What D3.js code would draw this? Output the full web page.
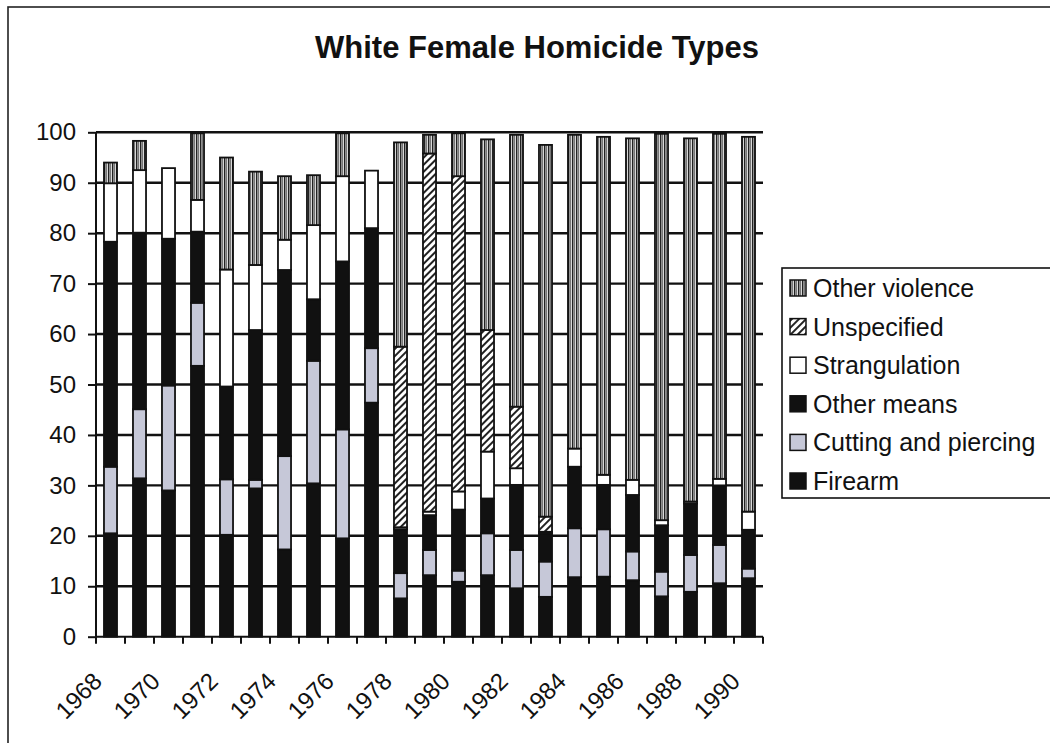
<!DOCTYPE html>
<html><head><meta charset="utf-8">
<script src="https://cdn.jsdelivr.net/npm/d3@7/dist/d3.min.js"></script>
<style>
body{margin:0;background:#fff}
svg{display:block}
text{font-family:"Liberation Sans",Arial,Helvetica,sans-serif;fill:#111}
</style>
</head><body>
<svg id="c" width="1050" height="743"></svg>
<script>
const years = [1968,1969,1970,1971,1972,1973,1974,1975,1976,1977,1978,1979,1980,1981,1982,1983,1984,1985,1986,1987,1988,1989,1990];
const firearm       = [20.5,31.4,29.0,53.7,20.2,29.4,17.3,30.4,19.5,46.4, 7.6,12.2,10.9,12.2, 9.6, 7.9,11.8,11.9,11.2, 8.0, 8.9,10.6,11.6];
const cutting       = [13.2,13.7,20.8,12.5,11.0, 1.7,18.5,24.3,21.6,10.8, 5.0, 5.0, 2.2, 8.3, 7.6, 7.0, 9.7, 9.4, 5.7, 4.9, 7.3, 7.6, 1.9];
const otherMeans    = [44.6,35.0,29.1,14.1,18.4,29.7,36.9,12.2,33.3,23.8, 8.7, 6.9,12.1, 6.9,12.9, 5.6,12.2, 8.8,11.2, 9.2,10.2,11.8, 7.7];
const strangulation = [11.6,12.4,14.0, 6.3,23.2,12.9, 6.0,14.7,16.9,11.4, 0.4, 0.7, 3.6, 9.3, 3.3, 0.3, 3.6, 2.0, 3.0, 1.0, 0.4, 1.3, 3.6];
const unspecified   = [ 0, 0, 0, 0, 0, 0, 0, 0, 0, 0,35.8,71.0,62.5,24.1,12.2, 3.0, 0, 0, 0, 0, 0, 0, 0];
const otherViolence = [ 4.1, 5.8, 0,13.2,22.2,18.5,12.6, 9.9, 8.5, 0,40.5, 3.7, 8.5,37.8,53.9,73.7,62.2,67.0,67.7,76.6,72.0,68.4,74.3];
const seriesNames = ["Firearm","Cutting and piercing","Other means","Strangulation","Unspecified","Other violence"];
const yTicks = [0,10,20,30,40,50,60,70,80,90,100];
const xTickLabels = [1968,1970,1972,1974,1976,1978,1980,1982,1984,1986,1988,1990];
const title = "White Female Homicide Types";

const svg = d3.select("#c");
const defs = svg.append("defs");

// patterns
const pOV = defs.append("pattern").attr("id","pOV").attr("patternUnits","userSpaceOnUse")
  .attr("width",4).attr("height",4);
pOV.append("rect").attr("width",4).attr("height",4).attr("fill","#d8d8d8");
pOV.append("rect").attr("x",0).attr("width",1.4).attr("height",4).attr("fill","#222");
pOV.append("rect").attr("x",2).attr("width",1).attr("height",4).attr("fill","#777");

const pU = defs.append("pattern").attr("id","pU").attr("patternUnits","userSpaceOnUse")
  .attr("width",5).attr("height",5).attr("patternTransform","rotate(45)");
pU.append("rect").attr("width",5).attr("height",5).attr("fill","#fff");
pU.append("rect").attr("x",0).attr("width",2).attr("height",5).attr("fill","#222");

const fills = ["#111","#c6c8d8","#111","#fff","url(#pU)","url(#pOV)"];

// outer border
svg.append("rect").attr("x",8).attr("y",7).attr("width",1100).attr("height",800)
  .attr("fill","none").attr("stroke","#222").attr("stroke-width",1.6);

// title
svg.append("text").attr("x",537).attr("y",58).attr("text-anchor","middle")
  .style("font-size","31px").style("font-weight","bold").text(title);

const x = d3.scaleBand().domain(years).range([96,763]).paddingInner(0.55).paddingOuter(0.275);
const y = d3.scaleLinear().domain([0,100]).range([636.7,132.3]);

// gridlines
svg.append("g").selectAll("line").data(yTicks.filter(d=>d>0)).join("line")
  .attr("x1",96).attr("x2",763).attr("y1",d=>y(d)).attr("y2",d=>y(d))
  .attr("stroke","#111").attr("stroke-width",2.4);

// stacked bars
const rows = years.map((yr,i)=>({year:yr, Firearm:firearm[i], "Cutting and piercing":cutting[i],
  "Other means":otherMeans[i], Strangulation:strangulation[i], Unspecified:unspecified[i], "Other violence":otherViolence[i]}));
const stack = d3.stack().keys(seriesNames)(rows);
svg.append("g").selectAll("g").data(stack).join("g")
  .attr("fill",(d,i)=>fills[i])
  .selectAll("rect").data(d=>d.filter(s=>s[1]-s[0]>0)).join("rect")
  .attr("x",d=>x(d.data.year)).attr("width",x.bandwidth())
  .attr("y",d=>y(d[1])).attr("height",d=>y(d[0])-y(d[1]))
  .attr("stroke","#111").attr("stroke-width",1.8);

// y axis
const yAxis = svg.append("g").attr("transform","translate(96,0)")
  .call(d3.axisLeft(y).tickValues(yTicks).tickSize(8).tickPadding(12));
yAxis.selectAll("line,path").attr("stroke","#111").attr("stroke-width",2);
yAxis.select("path").attr("d","M0,"+y(100)+"V"+y(0));
yAxis.selectAll("text").style("font-size","24px").attr("fill","#111").attr("font-family",null);

// x axis
const xAxis = svg.append("g").attr("transform","translate(0,"+y(0)+")")
  .call(d3.axisBottom(x).tickValues(xTickLabels).tickSize(0).tickFormat(d3.format("d")));
xAxis.select("path").attr("stroke","#111").attr("stroke-width",2).attr("d","M96,0H763");
xAxis.selectAll(".tick text")
  .attr("font-family",null).style("font-size","24px").attr("fill","#111")
  .attr("text-anchor","end").attr("dy",null).attr("y",0)
  .attr("transform","translate(-7,46) rotate(-45)");
const step = x.step();
const bounds = years.map(yr=>x(yr)-(step-x.bandwidth())/2).concat([763]);
xAxis.append("g").selectAll("line").data(bounds).join("line")
  .attr("x1",d=>d).attr("x2",d=>d).attr("y1",0).attr("y2",7)
  .attr("stroke","#111").attr("stroke-width",2);

// legend
const lg = svg.append("g");
lg.append("rect").attr("x",782).attr("y",268).attr("width",300).attr("height",230)
  .attr("fill","#fff").attr("stroke","#111").attr("stroke-width",1.6);
const legendOrder = seriesNames.slice().reverse();
const li = lg.selectAll("g.it").data(legendOrder).join("g").attr("class","it")
  .attr("transform",(d,i)=>"translate(790,"+(288+i*38.6)+")");
li.append("rect").attr("x",0).attr("y",-8).attr("width",16).attr("height",16)
  .attr("fill",d=>fills[seriesNames.indexOf(d)]).attr("stroke","#111").attr("stroke-width",1.5);
li.append("text").attr("x",23).attr("y",0).attr("dy","0.36em").style("font-size","25px").text(d=>d);
</script>
</body></html>
